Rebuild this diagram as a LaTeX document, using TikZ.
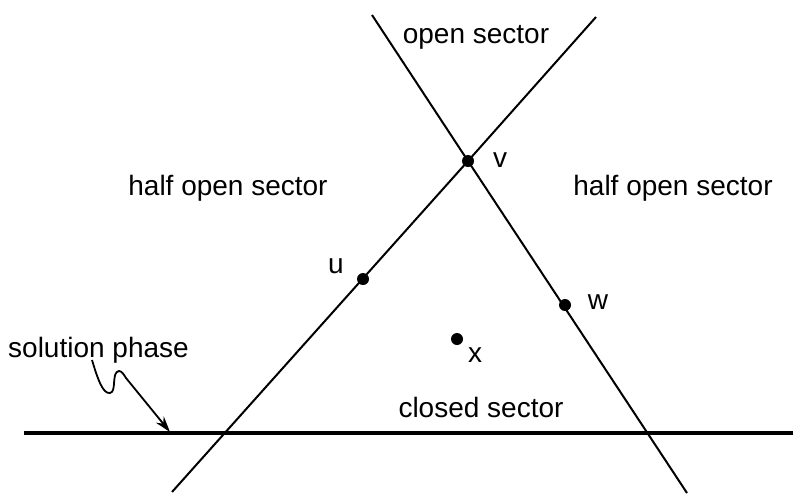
\documentclass[tikz,border=0pt]{standalone}
\usepackage{fontspec}
\setmainfont{Liberation Sans}
\usetikzlibrary{arrows.meta}
\begin{document}
\begin{tikzpicture}[x=1pt,y=-1pt,
  lbl/.style={inner sep=0pt, font=\fontsize{28}{31}\selectfont},
  dot/.style={circle, fill=black, inner sep=0pt, minimum size=12pt},
  thinline/.style={line width=2pt},
  thickline/.style={line width=3.5pt}]
\useasboundingbox (0,0) rectangle (793,493);
% end points
\coordinate (l1a) at (172,492);
\coordinate (l1b) at (596,17);
\coordinate (l2a) at (372,15);
\coordinate (l2b) at (687,493);
\coordinate (ha) at (24,433);
\coordinate (hb) at (793,433);
% lines
\draw[thinline] (l1a) -- (468,161) -- (l1b);
\draw[thinline] (l2a) -- (468,161) -- (l2b);
\draw[thickline] (ha) -- (hb);
% dots
\node[dot] (v) at (468,161) {};
\node[dot] (u) at (363,279) {};
\node[dot] (w) at (565,305) {};
\node[dot] (x) at (457,339) {};
% labels
\node[lbl] (lv) at (500,160) {v};
\node[lbl] (lu) at (336,266) {u};
\node[lbl] (lw) at (598,302) {w};
\node[lbl] (lx) at (475,355) {x};
\node[lbl] (los) at (476,37) {open sector};
\node[lbl] (lhl) at (228,188) {half open sector};
\node[lbl] (lhr) at (673,188) {half open sector};
\node[lbl] (lcs) at (481,407) {closed sector};
\node[lbl, anchor=west] (lsp) at (8,350) {solution phase};
% arrow
\coordinate (tip) at (170,432);
\draw[line width=1.8pt, -{Stealth[length=16pt,width=10pt]}]
  (92,360) .. controls (98,380) and (103,394) .. (110,393)
  .. controls (117,392) and (111,372) .. (119,371)
  .. controls (122,371) and (124,375) .. (126,378) -- (tip);
\end{tikzpicture}
\end{document}
